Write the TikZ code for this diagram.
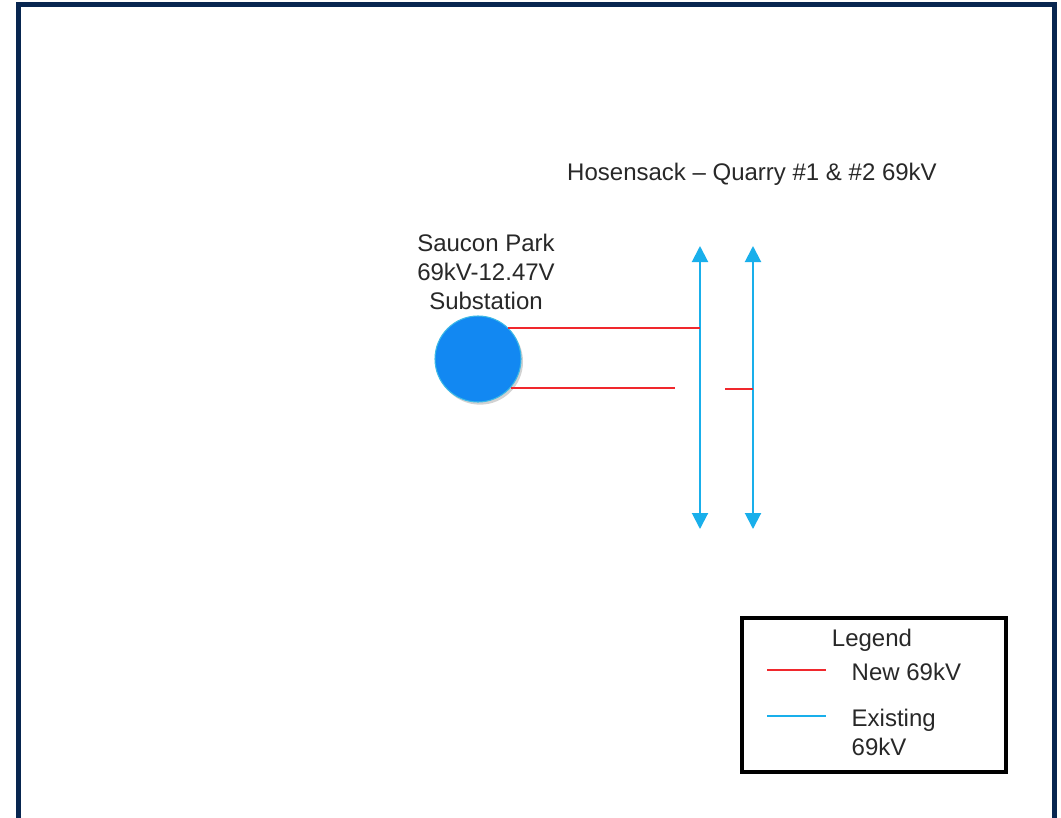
\documentclass[tikz,border=0pt]{standalone}
\usepackage{fontspec}
\setmainfont{Liberation Sans}
\usepackage{tikz}
\usetikzlibrary{arrows.meta, positioning, calc, shadows}
\usepackage{xcolor}
\definecolor{frame}{RGB}{8,38,80}
\definecolor{newline}{RGB}{240,40,45}
\definecolor{oldline}{RGB}{25,175,235}
\definecolor{subfill}{RGB}{18,136,242}
\definecolor{subedge}{RGB}{60,185,230}
\definecolor{txt}{RGB}{40,40,40}

\begin{document}
\begin{tikzpicture}[x=0.75pt, y=-0.75pt, font=\fontsize{18}{21.75}\selectfont, text=txt]
  \useasboundingbox (0,0) rectangle (1061,818);
  \fill[white] (0,0) rectangle (1061,818);
  \draw[frame, line width=3.75pt] (18.5,830) -- (18.5,4.5) -- (1054.5,4.5) -- (1054.5,830);

  % title and substation
  \node (title) at (752,174) {Hosensack -- Quarry \#1 \& \#2 69kV};
  \node[align=center] (sublabel) at (486,272) {Saucon Park\\69kV-12.47V\\Substation};
  \node[circle, fill=subfill, draw=subedge, line width=0.8pt, minimum size=86*0.75pt, inner sep=0pt,
        drop shadow={opacity=0.35, shadow xshift=1.5pt, shadow yshift=-2pt}] (sub) at (478,359) {};

  % existing lines
  \coordinate (q1top) at (700,246);
  \coordinate (q1bot) at (700,529);
  \coordinate (q2top) at (753,246);
  \coordinate (q2bot) at (753,529);
  \draw[oldline, line width=1.5pt, {Triangle[length=12pt, width=12pt]}-{Triangle[length=12pt, width=12pt]}] (q1top) -- (q1bot);
  \draw[oldline, line width=1.5pt, {Triangle[length=12pt, width=12pt]}-{Triangle[length=12pt, width=12pt]}] (q2top) -- (q2bot);

  % new lines
  \draw[newline, line width=1.6pt] (sub.46) -- (sub.46 -| q1top);
  \coordinate (gapA) at (675,387);
  \coordinate (gapB) at (725,389);
  \draw[newline, line width=1.6pt] (sub.-41) -- (sub.-41 -| gapA);
  \draw[newline, line width=1.6pt] (gapB) -- (gapB -| q2top);

  % legend
  \node[draw=black, line width=3pt, minimum width=264*0.75pt, minimum height=154*0.75pt] (legend) at (874,695) {};
  \node (legtitle) at (872,640) {Legend};
  \coordinate (redA) at (767,670);
  \coordinate (redB) at (826,670);
  \coordinate (blueA) at (767,716);
  \coordinate (blueB) at (826,716);
  \draw[newline, line width=1.5pt] (redA) -- (redB);
  \draw[oldline, line width=1.5pt] (blueA) -- (blueB);
  \node[anchor=west] (legnew) at (847,672) {New 69kV};
  \node[anchor=north west, align=left] (legold) at (847,704) {Existing\\69kV};
\end{tikzpicture}
\end{document}
